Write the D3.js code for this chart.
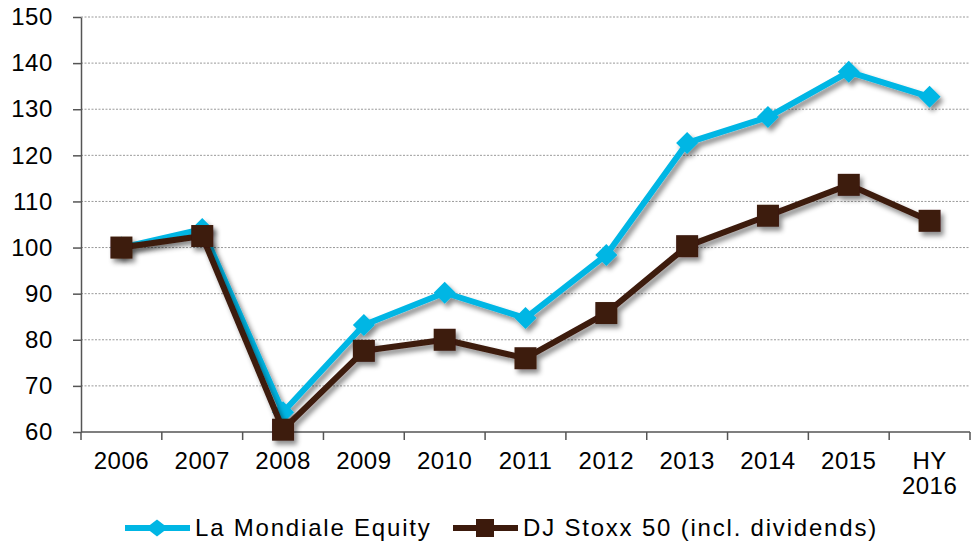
<!DOCTYPE html>
<html>
<head>
<meta charset="utf-8">
<title>La Mondiale Equity vs DJ Stoxx 50</title>
<script src="https://d3js.org/d3.v7.min.js"></script>
<style>
    body { margin: 0; background: #fff; }
    svg { display: block; font-family: "Liberation Sans", Arial, sans-serif; }
    .grid line { stroke: #999; stroke-dasharray: 2,1.5; }
    .axis path, .axis line { stroke: #555; stroke-width: 1.5; }
    .axis text { fill: #000; }
</style>
</head>
<body>
<svg width="971" height="546"></svg>
<script>
    // data
    var years = ["2006", "2007", "2008", "2009", "2010", "2011", "2012", "2013", "2014", "2015", "HY 2016"];
    var mondiale = [100, 104, 64.3, 83.2, 90.2, 84.7, 98.4, 122.7, 128.3, 138.1, 132.7];
    var stoxx = [100, 102.5, 60.5, 77.6, 80, 76, 85.8, 100.3, 106.9, 113.6, 105.8];
    var yTicks = [60, 70, 80, 90, 100, 110, 120, 130, 140, 150];

    var series = [
        {name: "La Mondiale Equity", values: mondiale, color: "#00b6e4", shape: "diamond"},
        {name: "DJ Stoxx 50 (incl. dividends)", values: stoxx, color: "#3c1a0c", shape: "square"}
    ];

    var svg = d3.select("svg"),
        margin = {top: 17, right: 1, bottom: 114, left: 81},
        width = +svg.attr("width") - margin.left - margin.right,
        height = +svg.attr("height") - margin.top - margin.bottom;

    var defs = svg.append("defs");
    defs.append("filter").attr("id", "shadow")
        .attr("x", "-10%").attr("y", "-10%").attr("width", "130%").attr("height", "130%")
        .append("feDropShadow")
        .attr("dx", 3).attr("dy", 4).attr("stdDeviation", 2.5)
        .attr("flood-color", "#000").attr("flood-opacity", 0.45);

    var g = svg.append("g").attr("transform", "translate(" + margin.left + "," + margin.top + ")");

    var x = d3.scaleBand().domain(years).range([0, width]);
    var y = d3.scaleLinear().domain([60, 150]).range([height, 0]);

    // gridlines
    g.append("g").attr("class", "grid")
        .selectAll("line")
        .data(yTicks.filter(function (d) { return d > 60; }))
        .enter().append("line")
        .attr("x1", 0).attr("x2", width)
        .attr("y1", function (d) { return y(d); })
        .attr("y2", function (d) { return y(d); });

    // y axis
    var yAxis = g.append("g").attr("class", "axis")
        .call(d3.axisLeft(y).tickValues(yTicks).tickSize(8).tickPadding(20).tickSizeOuter(0));
    yAxis.selectAll("text")
        .attr("font-size", 24)
        .attr("letter-spacing", 0.6);

    // x axis with ticks between categories
    var xAxis = g.append("g").attr("class", "axis")
        .attr("transform", "translate(0," + height + ")");
    xAxis.append("line").attr("x1", 0).attr("x2", width).attr("y1", 0).attr("y2", 0);
    xAxis.selectAll("line.tk")
        .data(d3.range(years.length + 1))
        .enter().append("line").attr("class", "tk")
        .attr("x1", function (i) { return i * x.step(); })
        .attr("x2", function (i) { return i * x.step(); })
        .attr("y1", 0).attr("y2", 8);
    var xl = xAxis.selectAll("text")
        .data(years)
        .enter().append("text")
        .attr("y", 37)
        .attr("text-anchor", "middle")
        .attr("font-size", 24)
        .attr("letter-spacing", 0.5);
    xl.each(function (d) {
        var parts = d.split(" ");
        var t = d3.select(this);
        parts.forEach(function (p, i) {
            t.append("tspan")
                .attr("x", x(d) + x.bandwidth() / 2)
                .attr("dy", i === 0 ? 0 : 25)
                .text(p);
        });
    });

    var line = d3.line()
        .x(function (d, i) { return x(years[i]) + x.bandwidth() / 2; })
        .y(function (d) { return y(d); });

    function marker(sel, shape, color, w, h) {
        if (shape === "diamond") {
            sel.append("path")
                .attr("d", "M0," + (-h) + "L" + w + ",0L0," + h + "L" + (-w) + ",0Z")
                .attr("fill", color);
        } else {
            sel.append("rect")
                .attr("x", -w).attr("y", -h)
                .attr("width", w * 2).attr("height", h * 2)
                .attr("fill", color);
        }
    }

    series.forEach(function (s) {
        var sg = g.append("g").attr("filter", "url(#shadow)");
        sg.append("path")
            .datum(s.values)
            .attr("fill", "none")
            .attr("stroke", s.color)
            .attr("stroke-width", 6)
            .attr("stroke-linejoin", "round")
            .attr("d", line);
        sg.selectAll("g.pt")
            .data(s.values)
            .enter().append("g").attr("class", "pt")
            .attr("transform", function (d, i) {
                return "translate(" + (x(years[i]) + x.bandwidth() / 2) + "," + y(d) + ")";
            })
            .each(function () {
                marker(d3.select(this), s.shape, s.color, 11, 11);
            });
    });

    // legend
    var legendX = [125, 453];
    var legend = svg.append("g")
        .selectAll("g")
        .data(series)
        .enter().append("g")
        .attr("transform", function (d, i) { return "translate(" + legendX[i] + ",528)"; });
    legend.append("line")
        .attr("x1", 0).attr("x2", 65)
        .attr("stroke", function (d) { return d.color; })
        .attr("stroke-width", 6);
    legend.each(function (d) {
        var m = d3.select(this).append("g").attr("transform", "translate(32,0)");
        if (d.shape === "diamond") marker(m, d.shape, d.color, 11, 8.5);
        else marker(m, d.shape, d.color, 9, 9);
    });
    legend.append("text")
        .attr("x", 70)
        .attr("dy", "0.35em")
        .attr("font-size", 24)
        .attr("letter-spacing", 1.8)
        .text(function (d) { return d.name; });
</script>
</body>
</html>
